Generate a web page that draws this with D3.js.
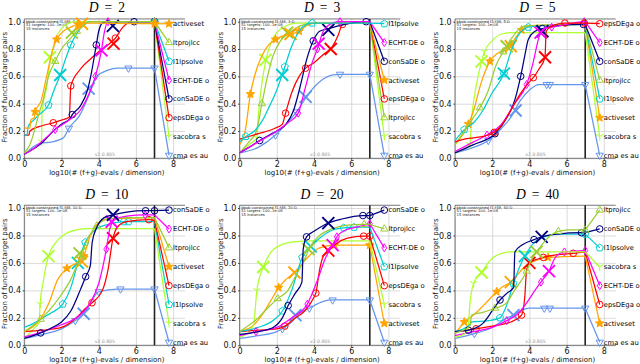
<!DOCTYPE html>
<html><head><meta charset="utf-8">
<script src="https://cdn.jsdelivr.net/npm/d3@7"></script>
<style>body{margin:0;background:#fff}svg{display:block}</style>
</head><body>
<svg id="c" width="640" height="364"></svg>
<script>
// ---------- data ----------
const dims = [2, 3, 5, 10, 20, 40];
const xTicks = [0, 2, 4, 6, 8];
const yTicks = [0, 0.2, 0.4, 0.6, 0.8, 1.0];
const xLabel = "log10(# (f+g)-evals / dimension)";
const yLabel = "Fraction of function,target pairs";
const infoLines = ["bbob-constrained f1-f48, {D}-D", "51 targets: 100..1e-08", "15 instances"];
const versionText = "v2.0.805";
const budgetLog = 7;

// each entry: [algorithm, points [log10 evals/dim, fraction, marker?], big-cross point]
// entries listed in legend order (top to bottom)
const D2 = [
 ["activeset", [[0,0.22],[0.3,0.22],[0.35,0.28],[0.55,0.3],[0.58,0.34,1],[0.9,0.42],[1.2,0.6],[1.5,0.78],[1.74,0.87,1],[2.1,0.93],[2.5,0.96],[2.9,0.98,1],[3.5,0.99],[7,0.985,1]], [3.1,0.985]],
 ["ltprojlcc", [[0,0.04],[0.3,0.1],[0.84,0.35],[1.0,0.42],[1.3,0.6],[1.66,0.71,1],[2.0,0.8],[2.5,0.88],[2.83,0.93,1],[3.2,0.97],[3.5,1.0],[7,1.0,1]], [2.56,0.92]],
 ["l1lpsolve", [[0,0.17],[0.15,0.17],[0.2,0.23],[0.5,0.28],[0.8,0.32],[1.3,0.39,1],[1.6,0.5],[1.93,0.61],[2.2,0.72],[2.5,0.83,1],[2.9,0.93],[3.3,0.99],[3.6,1.0],[7,1.0,1]], [1.93,0.61]],
 ["ECHT-DE o", [[0,0.03],[0.5,0.07],[1.0,0.13],[1.66,0.21,1],[2.5,0.29],[3.0,0.35],[3.5,0.48],[3.82,0.6,1],[4.15,0.79],[4.3,0.92],[4.5,1.0,1],[7,1.0,1]], [4.15,0.79]],
 ["conSaDE o", [[0,0.03],[0.5,0.07],[1.0,0.12],[1.56,0.2],[2.0,0.25],[2.46,0.29],[2.58,0.32,1],[3.0,0.38],[3.4,0.5],[3.6,0.62],[3.87,0.83,1],[4.0,0.93],[4.2,0.99],[4.5,1.0],[5.9,1.0,1],[7,1.0,1]], [4.76,0.97]],
 ["epsDEga o", [[0,0.17],[0.25,0.17],[0.3,0.2],[1.0,0.24],[1.56,0.26,1],[2.0,0.28],[2.42,0.3],[2.5,0.53,1],[3.0,0.65],[3.5,0.72],[4.0,0.78],[4.5,0.83],[4.9,0.88,1],[5.3,0.96],[5.8,1.0],[7,1.0,1]], [4.8,0.84]],
 ["sacobra s", [[0,0.04],[0.5,0.07],[0.93,0.12,1],[0.95,0.33],[1.2,0.52],[1.38,0.7],[1.7,0.88],[2.0,0.95],[2.4,0.99],[2.8,1.0],[7,1.0]], [1.38,0.74]],
 ["cma es au", [[0,0.03],[0.84,0.11],[1.5,0.12],[2.1,0.15],[2.4,0.22,1],[3.0,0.32],[3.5,0.47],[3.9,0.6],[4.5,0.645],[5.0,0.66],[5.6,0.66,1],[7,0.66,1]], [3.46,0.51]]
];
const D3 = [
 ["l1lpsolve", [[0,0.12],[0.34,0.16,1],[0.8,0.2],[1.2,0.27],[1.6,0.38],[2.0,0.5],[2.43,0.67,1],[2.8,0.82],[3.2,0.93],[3.6,0.98],[3.9,0.99,1],[7,0.99]], [2.29,0.61]],
 ["ECHT-DE o", [[0,0.04],[1.0,0.12],[2.0,0.2],[2.6,0.26],[3.15,0.33,1],[3.5,0.5],[3.9,0.7],[4.18,0.8,1],[4.5,0.93],[5.0,0.99],[5.4,1.0,1],[7,1.0]], [4.25,0.84]],
 ["conSaDE o", [[0,0.04],[0.5,0.08],[1.08,0.13,1],[1.6,0.17],[2.0,0.2],[2.5,0.25],[2.9,0.35],[3.3,0.55],[3.6,0.72],[3.96,0.86,1],[4.3,0.93],[4.8,0.95],[5.3,0.97],[6.0,0.99],[6.8,1.0,1],[7,1.0]], [4.77,0.94]],
 ["activeset", [[0,0.1],[0.3,0.2],[0.58,0.47,1],[0.8,0.6],[1.2,0.75],[1.5,0.82],[1.93,0.87,1],[2.4,0.9],[2.8,0.91],[3.2,0.93,1],[3.6,0.97],[4.0,0.99],[7,0.99]], [2.74,0.91]],
 ["epsDEga o", [[0,0.14],[1.0,0.18],[1.9,0.22],[2.3,0.25],[2.47,0.33,1],[2.8,0.48],[3.2,0.6],[3.55,0.66,1],[4.0,0.7],[4.5,0.76],[5.0,0.82],[5.3,0.9],[5.53,0.98,1],[6.0,0.99],[7,1.0]], [4.9,0.8]],
 ["ltprojlcc", [[0,0.04],[0.5,0.12],[0.9,0.2],[1.2,0.4,1],[1.5,0.6],[1.8,0.75],[2.2,0.86],[2.7,0.92,1],[3.0,0.95],[3.5,0.98],[4.0,0.99],[7,0.99]], [2.56,0.92]],
 ["sacobra s", [[0,0.04],[0.5,0.1],[0.93,0.15,1],[1.0,0.3],[1.2,0.55],[1.4,0.71],[1.7,0.85],[2.0,0.92],[2.5,0.97],[3.0,0.99],[7,0.99]], [1.39,0.72]],
 ["cma es au", [[0,0.04],[1.0,0.08],[1.93,0.17,1],[2.5,0.25],[3.06,0.34,1],[3.5,0.43],[4.0,0.52],[4.5,0.58],[5.0,0.61],[5.4,0.615,1],[7,0.615,1]], [3.55,0.45]]
];
const D5 = [
 ["epsDEga o", [[0,0.12],[0.5,0.14],[1.0,0.15],[1.5,0.16],[2.11,0.19,1],[2.5,0.24],[3.0,0.35],[3.5,0.47],[4.0,0.56],[4.21,0.59,1],[4.5,0.65],[4.84,0.74],[4.9,0.93],[5.2,0.97],[5.91,0.99,1],[6.95,0.99,1],[7,0.99]], [4.84,0.74]],
 ["ECHT-DE o", [[0,0.05],[1.0,0.12],[1.72,0.17,1],[2.5,0.25],[3.2,0.4],[3.85,0.54,1],[4.2,0.7],[4.5,0.88],[4.8,0.95],[5.2,0.96,1],[6.0,0.98],[6.95,1.0,1],[7,1.0]], [4.6,0.92]],
 ["conSaDE o", [[0,0.04],[1.0,0.1],[2.15,0.18,1],[2.8,0.3],[3.2,0.42],[3.53,0.6,1],[3.75,0.75],[3.94,0.87],[4.3,0.93],[4.7,0.95,1],[5.5,0.97],[6.9,0.98,1],[7,0.98]], [4.7,0.93]],
 ["ltprojlcc", [[0,0.1],[0.5,0.2],[1.0,0.3],[1.34,0.37,1],[1.8,0.5],[2.2,0.68],[2.6,0.78,1],[3.0,0.87],[3.4,0.94],[3.8,0.97],[7,0.98]], [2.78,0.82]],
 ["l1lpsolve", [[0,0.13],[0.5,0.21,1],[1.0,0.26],[1.5,0.35],[2.0,0.48],[2.4,0.56],[2.63,0.62,1],[3.0,0.78],[3.4,0.9],[3.94,0.96,1],[4.5,0.97],[7,0.98]], [2.63,0.62]],
 ["activeset", [[0,0.1],[0.4,0.17],[0.72,0.25,1],[1.0,0.35],[1.4,0.55],[1.88,0.71,1],[2.3,0.77],[2.7,0.8],[3.0,0.83,1],[3.3,0.89],[3.58,0.94,1],[4.0,0.97],[7,0.98]], [3.0,0.82]],
 ["sacobra s", [[0,0.04],[0.5,0.07],[0.8,0.1,1],[0.9,0.3],[1.1,0.5],[1.43,0.71],[1.58,0.78,1],[2.0,0.86],[2.5,0.91],[3.0,0.92],[7,0.92]], [1.43,0.71]],
 ["cma es au", [[0,0.04],[1.0,0.08],[1.79,0.13,1],[2.5,0.22],[3.0,0.3],[3.5,0.42],[4.0,0.5],[4.5,0.54],[4.93,0.54,1],[5.1,0.54,1],[7,0.54,1]], [3.26,0.35]]
];
const D10 = [
 ["conSaDE o", [[0,0.05],[0.88,0.09,1],[1.5,0.13],[2.0,0.17],[2.5,0.25],[3.0,0.4],[3.3,0.5,1],[3.55,0.58],[3.65,0.75],[3.9,0.86],[4.3,0.93],[4.77,0.95],[5.5,0.97],[6.52,0.98,1],[7,0.98,1]], [4.77,0.95]],
 ["ECHT-DE o", [[0,0.06],[1.0,0.1],[2.0,0.15],[2.8,0.2],[3.5,0.3],[4.0,0.45],[4.41,0.7,1],[4.6,0.85],[4.9,0.92],[5.5,0.94],[6.5,0.95,1],[7,0.95]], [4.7,0.9]],
 ["ltprojlcc", [[0,0.1],[0.88,0.19,1],[1.5,0.28],[2.0,0.37],[2.5,0.48],[3.0,0.64],[3.5,0.8],[3.9,0.87,1],[4.5,0.92],[5.5,0.93],[7,0.93]], [2.97,0.67]],
 ["activeset", [[0,0.1],[0.8,0.18],[1.3,0.3],[1.8,0.48],[2.29,0.56,1],[2.8,0.6],[3.19,0.65,1],[3.5,0.78],[3.9,0.88],[4.5,0.92],[7,0.93]], [3.1,0.61]],
 ["epsDEga o", [[0,0.1],[1.0,0.11],[2.0,0.13],[2.8,0.2],[3.3,0.27],[3.64,0.31,1],[4.2,0.4],[4.5,0.55],[4.77,0.78],[5.0,0.86],[5.5,0.9],[6.7,0.915,1],[7,0.91]], [4.77,0.78]],
 ["l1lpsolve", [[0,0.13],[0.5,0.16],[1.0,0.2],[1.5,0.24],[2.07,0.3,1],[2.5,0.42],[2.88,0.6],[3.28,0.75,1],[3.9,0.85],[4.5,0.88],[5.35,0.9,1],[5.6,0.9,1],[7,0.9]], [2.88,0.6]],
 ["sacobra s", [[0,0.05],[0.5,0.12],[0.8,0.17],[0.85,0.3,1],[1.0,0.45],[1.3,0.65],[1.7,0.75],[2.2,0.81],[2.8,0.84],[3.5,0.85],[7,0.85]], [1.3,0.65]],
 ["cma es au", [[0,0.05],[1.0,0.08],[2.0,0.12],[2.74,0.18,1],[3.3,0.25],[3.6,0.32],[4.0,0.39,1],[5.0,0.41],[5.17,0.41,1],[7,0.41,1]], [3.19,0.23]]
];
const D20 = [
 ["conSaDE o", [[0,0.08],[1.0,0.1],[1.8,0.13],[2.3,0.2],[2.61,0.29,1],[3.0,0.38],[3.35,0.46],[3.42,0.7],[3.6,0.79,1],[4.0,0.83],[4.6,0.88],[5.5,0.92],[6.63,0.945,1],[7,0.945,1]], [4.77,0.89]],
 ["ltprojlcc", [[0,0.1],[1.0,0.2],[1.5,0.27],[2.05,0.34,1],[2.6,0.4],[3.0,0.5],[3.5,0.63],[3.8,0.72],[4.3,0.8],[5.0,0.85],[5.8,0.875],[6.7,0.88,1],[7,0.88]], [3.7,0.7]],
 ["ECHT-DE o", [[0,0.07],[0.88,0.1,1],[2.0,0.13],[2.8,0.2],[3.64,0.3,1],[4.2,0.48],[4.6,0.63],[5.0,0.73],[5.23,0.79,1],[5.7,0.84],[6.3,0.86],[7,0.885,1]], [5.0,0.73]],
 ["l1lpsolve", [[0,0.1],[1.0,0.13],[1.8,0.18],[2.3,0.25,1],[2.8,0.4],[3.37,0.64,1],[3.82,0.72],[4.3,0.78],[5.0,0.84],[5.6,0.855,1],[6.16,0.86,1],[7,0.86]], [3.82,0.72]],
 ["epsDEga o", [[0,0.1],[1.0,0.11],[2.0,0.12],[2.43,0.14,1],[3.0,0.2],[3.5,0.25],[4.0,0.35],[4.1,0.38,1],[4.3,0.55],[4.5,0.65],[4.77,0.69],[5.2,0.74],[5.8,0.78],[6.67,0.795,1],[7,0.795,1]], [4.77,0.69]],
 ["sacobra s", [[0,0.06],[0.5,0.1],[0.75,0.15],[0.93,0.4,1],[1.27,0.57],[1.7,0.68],[2.2,0.73],[3.0,0.755],[4.0,0.76],[7,0.76]], [1.27,0.57]],
 ["activeset", [[0,0.1],[0.7,0.14],[1.2,0.22],[1.7,0.33],[2.1,0.42,1],[2.5,0.48],[2.95,0.53],[3.4,0.6],[3.8,0.66],[4.3,0.71],[5.1,0.73,1],[7,0.73,1]], [2.95,0.53]],
 ["cma es au", [[0,0.05],[1.0,0.07],[2.0,0.1],[2.3,0.12,1],[2.8,0.17],[3.2,0.23],[3.75,0.27,1],[4.5,0.32],[5.0,0.33,1],[7,0.33,1]], [3.0,0.22]]
];
const D40 = [
 ["ltprojlcc", [[0,0.09],[0.8,0.14],[0.9,0.22],[1.5,0.24],[2.15,0.27,1],[2.7,0.3],[3.2,0.4],[3.85,0.54,1],[4.1,0.62],[4.5,0.7],[4.9,0.77],[5.56,0.83,1],[6.3,0.84],[7,0.84,1]], [4.39,0.68]],
 ["conSaDE o", [[0,0.1],[0.72,0.11,1],[1.5,0.16],[2.0,0.25],[2.42,0.33,1],[2.8,0.38],[3.15,0.42],[3.22,0.68],[3.6,0.73],[4.25,0.77,1],[4.66,0.79],[5.5,0.81],[6.8,0.82,1],[7,0.82]], [4.66,0.79]],
 ["l1lpsolve", [[0,0.1],[0.8,0.15],[0.9,0.17],[1.8,0.18],[2.42,0.2,1],[2.8,0.3],[3.14,0.45,1],[3.5,0.58],[3.76,0.65],[4.2,0.74],[4.8,0.79],[5.5,0.81],[7,0.81,1]], [3.76,0.65]],
 ["sacobra s", [[0,0.06],[0.5,0.08],[0.7,0.12],[0.8,0.3],[1.0,0.45,1],[1.43,0.53],[1.97,0.63],[2.5,0.67],[3.0,0.68],[7,0.68]], [1.43,0.53]],
 ["ECHT-DE o", [[0,0.07],[1.0,0.1],[2.0,0.13],[2.78,0.18,1],[3.3,0.22],[3.8,0.3],[4.3,0.4],[4.62,0.46,1],[5.05,0.54],[5.4,0.64],[5.88,0.68,1],[7,0.69,1]], [5.05,0.54]],
 ["epsDEga o", [[0,0.1],[1.13,0.12,1],[2.0,0.14],[3.0,0.17],[3.58,0.22,1],[3.75,0.35],[3.85,0.55],[4.0,0.6],[4.75,0.64,1],[5.5,0.66],[6.36,0.67,1],[7,0.68]], [4.0,0.6]],
 ["activeset", [[0,0.08],[0.5,0.17,1],[1.0,0.22],[1.6,0.3],[2.24,0.39,1],[2.6,0.43],[3.0,0.46],[3.4,0.52],[3.8,0.58],[4.4,0.62],[5.0,0.64,1],[7,0.65]], [3.0,0.46]],
 ["cma es au", [[0,0.05],[1.04,0.085,1],[2.0,0.13],[2.8,0.2],[3.14,0.22],[3.5,0.25],[4.0,0.27],[4.8,0.27,1],[5.1,0.27,1],[7,0.27,1]], [3.14,0.22]]
];

// ---------- styles ----------
const styles = {
  "activeset": {color: "#ffa500", marker: "star"},
  "ltprojlcc": {color: "#9acd32", marker: "triUp"},
  "l1lpsolve": {color: "#00ced1", marker: "pentagon"},
  "ECHT-DE o": {color: "#ff00ff", marker: "diamond"},
  "conSaDE o": {color: "#000080", marker: "circle"},
  "epsDEga o": {color: "#ff0000", marker: "circle"},
  "sacobra s": {color: "#adff2f", marker: "tri1"},
  "cma es au": {color: "#6495ed", marker: "triDown"}
};

function poly(n, r, rot) {
  const p = [];
  for (let i = 0; i < n; i++) {
    const a = rot + i * 2 * Math.PI / n;
    p.push([r * Math.cos(a), r * Math.sin(a)]);
  }
  return "M" + p.map(d => d[0].toFixed(2) + "," + d[1].toFixed(2)).join("L") + "Z";
}
function starPath(ro, ri) {
  const p = [];
  for (let i = 0; i < 10; i++) {
    const a = -Math.PI / 2 + i * Math.PI / 5, r = i % 2 ? ri : ro;
    p.push([r * Math.cos(a), r * Math.sin(a)]);
  }
  return "M" + p.map(d => d[0].toFixed(2) + "," + d[1].toFixed(2)).join("L") + "Z";
}
const markerPaths = {
  circle: d3.symbol(d3.symbolCircle, Math.PI * 3.3 * 3.3)(),
  diamond: "M0,-4L2.5,0L0,4L-2.5,0Z",
  star: starPath(4.4, 1.9),
  triUp: poly(3, 4.2, -Math.PI / 2),
  triDown: poly(3, 4.2, Math.PI / 2),
  pentagon: poly(5, 3.8, -Math.PI / 2),
  tri1: "M0,0L0,4.2M0,0L-3.6,-2.1M0,0L3.6,-2.1"
};

// ---------- layout ----------
const svg = d3.select("#c");
const unit = 18.6;            // px per decade
const xMax = 8.64;
const yMax = 1.02;
const panelLeft = [24.3, 239.6, 455];
const rowTop1 = [21.7, 208];  // pixel of y = 1.0
const rowBottom = [158.3, 345.3]; // pixel of y = 0
const legX = 7.78, legTextX = 8.0;
const panels = [D2, D3, D5, D10, D20, D40];
const FONT = "'DejaVu Sans', sans-serif";

panels.forEach((data, i) => {
  const dim = dims[i];
  const col = i % 3, row = Math.floor(i / 3);
  const x0 = panelLeft[col];
  const x = d3.scaleLinear().domain([0, xMax]).range([x0, x0 + xMax * unit]);
  const y = d3.scaleLinear().domain([0, 1]).range([rowBottom[row], rowTop1[row]]);
  const top = y(yMax), bot = y(0), right = x(xMax);
  const g = svg.append("g");

  // grid
  const gx = g.append("g").attr("transform", `translate(0,${bot})`)
    .call(d3.axisBottom(x).tickValues(xTicks).tickSize(-(bot - top)).tickFormat(""));
  const gy = g.append("g").attr("transform", `translate(${x0},0)`)
    .call(d3.axisLeft(y).tickValues(yTicks).tickSize(-(right - x0)).tickFormat(""));
  [gx, gy].forEach(a => {
    a.select(".domain").remove();
    a.selectAll("line").attr("stroke", "#d0d0d0").attr("stroke-width", 0.8);
  });

  // frame
  g.append("path").attr("d", `M${right},${top}H${x0}V${bot}H${right}`)
    .attr("fill", "none").attr("stroke", "#666").attr("stroke-width", 0.9);

  // axes with labels
  const ax = g.append("g").attr("transform", `translate(0,${bot})`)
    .call(d3.axisBottom(x).tickValues(xTicks).tickSize(1.5).tickPadding(1.2).tickFormat(d3.format("d")));
  const ay = g.append("g").attr("transform", `translate(${x0},0)`)
    .call(d3.axisLeft(y).tickValues(yTicks).tickSize(1.5).tickPadding(1.8).tickFormat(d3.format(".1f")));
  [ax, ay].forEach(a => {
    a.select(".domain").remove();
    a.selectAll("line").attr("stroke", "#333");
    a.selectAll("text").attr("font-family", FONT).attr("font-size", 8).attr("fill", "#111");
  });

  // info box
  const info = g.append("g");
  info.append("rect").attr("x", x0 + 0.5).attr("y", top + 0.8).attr("width", 56).attr("height", 11)
    .attr("fill", "#fff").attr("opacity", 0.4);
  infoLines.forEach((t, k) => {
    info.append("text").attr("x", x0 + 1.6).attr("y", top + 3.6 + k * 3.5)
      .attr("font-family", FONT).attr("font-size", 3.7).attr("fill", "#222")
      .text(t.replace("{D}", dim));
  });

  // version
  g.append("text").attr("x", x0 + 80.5).attr("y", bot - 2.6).attr("text-anchor", "middle")
    .attr("font-family", FONT).attr("font-size", 4.6).attr("fill", "#999").text(versionText);

  // budget line
  g.append("line").attr("x1", x(budgetLog)).attr("x2", x(budgetLog)).attr("y1", top).attr("y2", bot)
    .attr("stroke", "#222").attr("stroke-width", 1.6);

  const line = d3.line().x(d => x(d[0])).y(d => y(d[1])).curve(d3.curveMonotoneX);
  const n = data.length;
  const legY = k => 0.985 - k * (0.963 / (n - 1));

  // draw series (reverse so the top legend entry lies on top)
  data.slice().reverse().forEach(([name, pts, cross]) => {
    const k = data.findIndex(d => d[0] === name);
    const st = styles[name];
    const s = g.append("g");
    s.append("path").attr("d", line(pts)).attr("fill", "none")
      .attr("stroke", st.color).attr("stroke-width", 1.25);
    const last = pts[pts.length - 1];
    s.append("line").attr("x1", x(last[0])).attr("y1", y(last[1]))
      .attr("x2", x(legX)).attr("y2", y(legY(k)))
      .attr("stroke", st.color).attr("stroke-width", 1.25);
    const mk = pts.filter(p => p[2] === 1).concat([[legX, legY(k)]]);
    s.selectAll(".m").data(mk).join("path").attr("class", "m")
      .attr("transform", p => `translate(${x(p[0])},${y(p[1])})`)
      .attr("d", markerPaths[st.marker])
      .attr("fill", st.marker === "star" ? st.color : "none")
      .attr("stroke", st.color).attr("stroke-width", 1);
    const cx = x(cross[0]), cy = y(cross[1]), r = 6;
    s.append("path").attr("d", `M${cx - r},${cy - r}L${cx + r},${cy + r}M${cx - r},${cy + r}L${cx + r},${cy - r}`)
      .attr("stroke", st.color).attr("stroke-width", 1.9).attr("fill", "none");
    s.append("text").attr("x", x(legTextX)).attr("y", y(legY(k))).attr("dy", "0.35em")
      .attr("font-family", FONT).attr("font-size", 6.8).attr("fill", "#000").text(name);
  });

  // titles and axis labels
  const cxm = x0 + 82.5;
  const title = g.append("text").attr("x", cxm).attr("y", top - 6.6).attr("text-anchor", "middle")
    .attr("font-family", "'Liberation Serif', 'DejaVu Serif', serif").attr("font-size", 13.6).attr("fill", "#000");
  title.append("tspan").attr("font-style", "italic").text("D");
  title.append("tspan").attr("dx", 6).text("=");
  title.append("tspan").attr("dx", 6).text(String(dim));
  g.append("text").attr("x", cxm).attr("y", bot + 16.5).attr("text-anchor", "middle")
    .attr("font-family", FONT).attr("font-size", 7).attr("fill", "#111").text(xLabel);
  g.append("text").attr("transform", `translate(${x0 - 17},${(top + bot) / 2 - 1.5}) rotate(-90)`)
    .attr("text-anchor", "middle").attr("font-family", FONT).attr("font-size", 7).attr("fill", "#111").text(yLabel);
});
</script>
</body></html>
